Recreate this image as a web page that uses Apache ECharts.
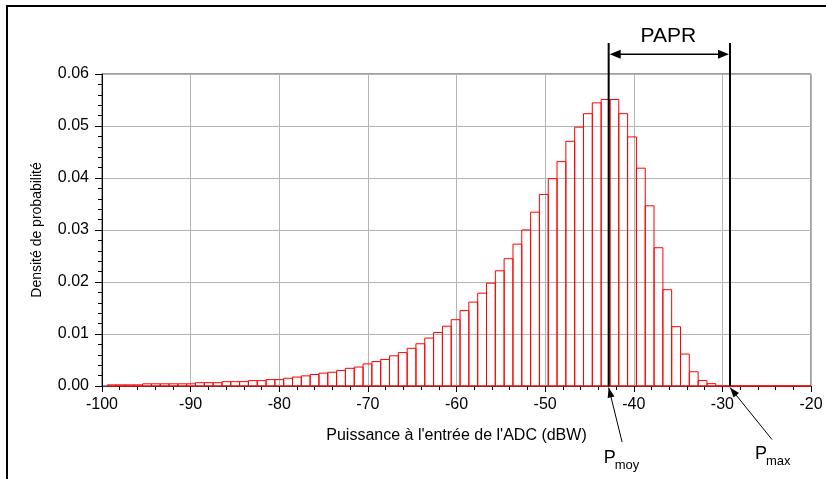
<!DOCTYPE html>
<html><head><meta charset="utf-8">
<script src="https://cdn.jsdelivr.net/npm/echarts@6/dist/echarts.min.js"></script>
<style>html,body{margin:0;padding:0;background:#fff;overflow:hidden}#c{width:826px;height:479px}</style>
</head><body><div id="c"></div>
<script>
// Bin centres (dBW) of the histogram
const binCenters = [
  -98.90, -97.91, -96.91, -95.92, -94.92, -93.93, -92.93, -91.94, -90.94, -89.95,
  -88.95, -87.96, -86.96, -85.97, -84.97, -83.98, -82.98, -81.99, -80.99, -80.00,
  -79.00, -78.01, -77.01, -76.02, -75.02, -74.03, -73.03, -72.04, -71.04, -70.05,
  -69.05, -68.06, -67.06, -66.07, -65.07, -64.08, -63.08, -62.09, -61.09, -60.10,
  -59.10, -58.11, -57.11, -56.12, -55.12, -54.13, -53.13, -52.14, -51.14, -50.15,
  -49.15, -48.16, -47.16, -46.17, -45.17, -44.18, -43.18, -42.19, -41.19, -40.20,
  -39.20, -38.21, -37.21, -36.22, -35.22, -34.23, -33.23, -32.24, -31.24, -30.25,
  -29.25, -28.26, -27.26, -26.27, -25.27, -24.28, -23.28, -22.29, -21.29, -20.30
];
// Probability density of each bin
const density = [
  0.00022, 0.00022, 0.00022, 0.00022, 0.00042, 0.00042, 0.00042, 0.00042, 0.00042, 0.00042,
  0.00064, 0.00064, 0.00064, 0.00084, 0.00084, 0.00084, 0.00103, 0.00103, 0.00123, 0.00123,
  0.00149, 0.00172, 0.00195, 0.00221, 0.00247, 0.00265, 0.00299, 0.00340, 0.00364, 0.00425,
  0.00470, 0.00511, 0.00580, 0.00642, 0.00724, 0.00812, 0.00922, 0.01030, 0.01150, 0.01275,
  0.01450, 0.01613, 0.01785, 0.01978, 0.02216, 0.02448, 0.02728, 0.03002, 0.03343, 0.03684,
  0.03987, 0.04315, 0.04706, 0.04978, 0.05237, 0.05445, 0.05510, 0.05510, 0.05237, 0.04790,
  0.04189, 0.03465, 0.02659, 0.01852, 0.01141, 0.00614, 0.00273, 0.00105, 0.00045, 0,
  0, 0, 0, 0, 0, 0, 0, 0, 0, 0
];
const binWidth = 0.995;
const pMoy = -42.83;   // mean power
const pMax = -29.14;   // peak power
const xAxisRange = [-100, -20];
const yAxisRange = [0, 0.06];
const xName = "Puissance à l'entrée de l'ADC (dBW)";
const yName = 'Densité de probabilité';
const papr = 'PAPR';
const labelMoy = ['P', 'moy'];
const labelMax = ['P', 'max'];

const FONT = "'Liberation Sans', Arial, sans-serif";
const chart = echarts.init(document.getElementById('c'), null, {renderer: 'canvas'});

function renderItem(params, api) {
  const c = api.value(0), v = api.value(1);
  const p0 = api.coord([c - binWidth / 2, v]);
  const p1 = api.coord([c + binWidth / 2, 0]);
  const cs = params.coordSys;
  const r = echarts.graphic.clipRectByRect(
    {x: p0[0], y: p0[1], width: p1[0] - p0[0], height: p1[1] - p0[1]},
    {x: cs.x, y: cs.y, width: cs.width, height: cs.height + 1});
  if (!r) return;
  return {type: 'rect', shape: r, style: {fill: 'rgba(0,0,0,0)', stroke: '#ff0000', lineWidth: 1}};
}

chart.setOption({
  animation: false,
  grid: {left: 102, right: 15, top: 74, bottom: 93, show: true, borderColor: '#404040', borderWidth: 1},
  xAxis: {
    type: 'value', min: xAxisRange[0], max: xAxisRange[1], interval: 10,
    name: xName, nameLocation: 'middle', nameGap: 42,
    nameTextStyle: {fontFamily: FONT, fontSize: 16, color: '#000'},
    axisLine: {lineStyle: {color: '#404040', width: 1}},
    axisTick: {show: true, length: 6, lineStyle: {color: '#000'}},
    minorTick: {show: true, splitNumber: 5, length: 4, lineStyle: {color: '#000'}},
    axisLabel: {fontFamily: FONT, fontSize: 16, color: '#000', margin: 11},
    splitLine: {show: true, lineStyle: {color: '#b4b4b4', width: 1}}
  },
  yAxis: {
    type: 'value', min: yAxisRange[0], max: yAxisRange[1], interval: 0.01,
    name: yName, nameLocation: 'middle', nameGap: 58, nameRotate: 90,
    nameTextStyle: {fontFamily: FONT, fontSize: 14, color: '#000'},
    axisLine: {show: true, lineStyle: {color: '#000', width: 1}},
    axisTick: {show: true, length: 7, lineStyle: {color: '#000'}},
    minorTick: {show: true, splitNumber: 5, length: 4, lineStyle: {color: '#000'}},
    axisLabel: {fontFamily: FONT, fontSize: 16, color: '#000', margin: 13,
      formatter: v => v.toFixed(2)},
    splitLine: {show: true, lineStyle: {color: '#b4b4b4', width: 1}}
  },
  series: [{
    type: 'custom', renderItem: renderItem, z: 3,
    data: binCenters.map((c, i) => [c, density[i]])
  }]
});

function arrowHead(tip, from, len, half) {
  const dx = tip[0] - from[0], dy = tip[1] - from[1];
  const d = Math.hypot(dx, dy), ux = dx / d, uy = dy / d;
  const bx = tip[0] - ux * len, by = tip[1] - uy * len;
  return [tip, [bx - uy * half, by + ux * half], [bx + uy * half, by - ux * half]];
}

const base = chart.convertToPixel({gridIndex: 0}, [pMoy, 0]);
const xm = base[0];
const xM = chart.convertToPixel({gridIndex: 0}, [pMax, 0])[0];
const yb = base[1];
const topY = 43, arrY = 54.3;
const blk = {stroke: '#000', lineWidth: 2};
const g = [];
// outer frame
g.push({type: 'polyline', shape: {points: [[7, 479], [7, 6], [826, 6]]}, style: {stroke: '#000', lineWidth: 2, fill: null}, z: 10});
// vertical markers
g.push({type: 'line', shape: {x1: xm, y1: topY, x2: xm, y2: yb}, style: blk, z: 10});
g.push({type: 'line', shape: {x1: xM, y1: topY, x2: xM, y2: yb}, style: blk, z: 10});
// PAPR double arrow
g.push({type: 'line', shape: {x1: xm + 4, y1: arrY, x2: xM - 4, y2: arrY}, style: {stroke: '#000', lineWidth: 1.5}, z: 10});
g.push({type: 'polygon', shape: {points: arrowHead([xm + 1, arrY], [xM, arrY], 11, 4.5)}, style: {fill: '#000'}, z: 10});
g.push({type: 'polygon', shape: {points: arrowHead([xM - 1, arrY], [xm, arrY], 11, 4.5)}, style: {fill: '#000'}, z: 10});
g.push({type: 'text', x: (xm + xM) / 2 - 1, y: 36, style: {text: papr, font: '21px ' + FONT, fill: '#000', align: 'center', verticalAlign: 'middle'}, z: 10});
// pointer arrows
const tipM = [xm, yb + 1.5], tailM = [xm + 13.4, yb + 56];
const tipX = [xM, yb + 1.5], tailX = [xM + 42, yb + 53.5];
[[tipM, tailM], [tipX, tailX]].forEach(([tip, tail]) => {
  g.push({type: 'line', shape: {x1: tail[0], y1: tail[1], x2: tip[0], y2: tip[1]}, style: {stroke: '#000', lineWidth: 1}, z: 10});
  g.push({type: 'polygon', shape: {points: arrowHead(tip, tail, 10, 3.5)}, style: {fill: '#000'}, z: 10});
});
// labels P_moy, P_max
function pLabel(x, baseY, parts) {
  g.push({type: 'text', x: x, y: baseY, style: {text: parts[0], font: '18px ' + FONT, fill: '#000', align: 'left', verticalAlign: 'bottom'}, z: 10});
  g.push({type: 'text', x: x + 11, y: baseY + 5, style: {text: parts[1], font: '13px ' + FONT, fill: '#000', align: 'left', verticalAlign: 'bottom'}, z: 10});
}
pLabel(xm - 5, 467, labelMoy);
pLabel(xM + 25, 463, labelMax);
chart.setOption({graphic: {elements: g}});
</script>
</body></html>
